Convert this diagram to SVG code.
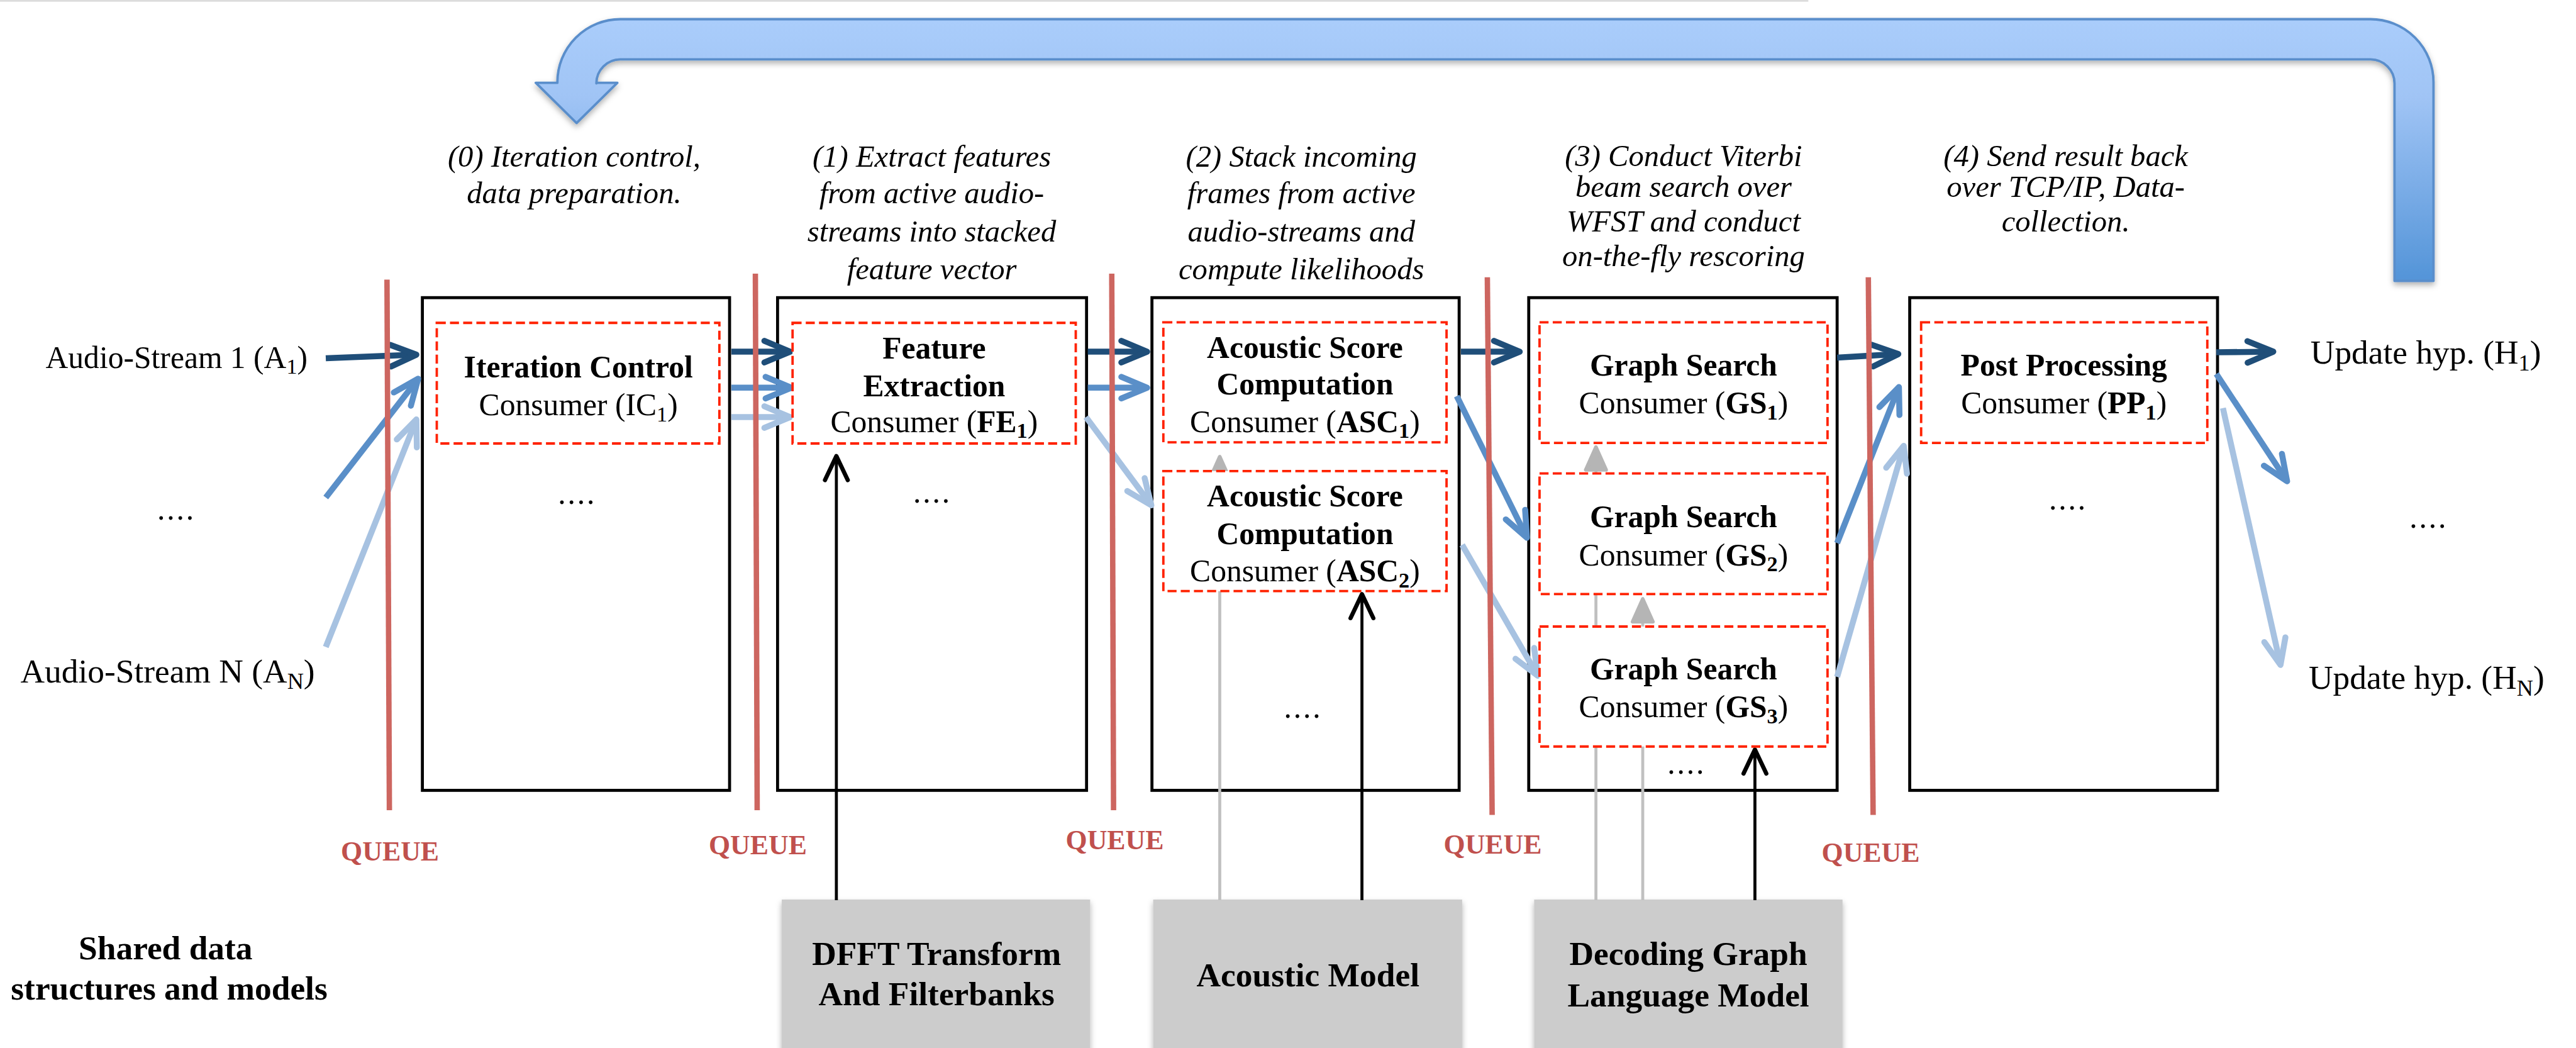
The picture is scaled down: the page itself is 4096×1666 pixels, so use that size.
<svg xmlns="http://www.w3.org/2000/svg" width="4096" height="1666" viewBox="0 0 4096 1666">
<defs>
<style>
text{font-family:"Liberation Serif","Times New Roman",serif;fill:#000}
.it{font-style:italic;font-size:51px;text-anchor:middle}
.nb{font-weight:bold;font-size:52px;text-anchor:middle}
.nr{font-size:52px;text-anchor:middle}
.lab{font-size:52px}
.lab2{font-size:56px}
.mb{font-weight:bold;font-size:56px;text-anchor:middle}
.q{font-weight:bold;font-size:46px;text-anchor:middle;fill:#c0504d}
.dots{font-size:52px;text-anchor:middle;letter-spacing:3px}
.stage{fill:none;stroke:#000;stroke-width:5}
.node{fill:#fff;stroke:#ff2200;stroke-width:4;stroke-dasharray:15 7}
.queue{stroke:#cd6660;stroke-width:9;fill:none}
.model{fill:#cccccc}
.fd{stroke:#1f4e79;stroke-width:10;fill:none;marker-end:url(#mD)}
.fm{stroke:#5a8fc8;stroke-width:10;fill:none;marker-end:url(#mM)}
.fl{stroke:#a7c2e1;stroke-width:10;fill:none;marker-end:url(#mL)}
.blk{stroke:#000;stroke-width:5;fill:none;marker-end:url(#mK)}
.gry{stroke:#c0c0c0;stroke-width:5;fill:none;marker-end:url(#mG)}
</style>
<linearGradient id="bigGrad" gradientUnits="userSpaceOnUse" x1="0" y1="32" x2="0" y2="468">
<stop offset="0" stop-color="#aacdfb"/>
<stop offset="0.3" stop-color="#a0c4f5"/>
<stop offset="1" stop-color="#5394d8"/>
</linearGradient>
<filter id="sh" x="-10%" y="-10%" width="130%" height="130%">
<feDropShadow dx="0" dy="5" stdDeviation="5" flood-color="#000" flood-opacity="0.3"/>
</filter>
<marker id="mD" markerUnits="userSpaceOnUse" orient="auto" overflow="visible" markerWidth="1" markerHeight="1">
<path d="M-43,-18 L0,0 L-43,18" fill="none" stroke="#1f4e79" stroke-width="10" stroke-linecap="round" stroke-linejoin="round"/>
</marker>
<marker id="mM" markerUnits="userSpaceOnUse" orient="auto" overflow="visible" markerWidth="1" markerHeight="1">
<path d="M-43,-18 L0,0 L-43,18" fill="none" stroke="#5a8fc8" stroke-width="10" stroke-linecap="round" stroke-linejoin="round"/>
</marker>
<marker id="mL" markerUnits="userSpaceOnUse" orient="auto" overflow="visible" markerWidth="1" markerHeight="1">
<path d="M-43,-18 L0,0 L-43,18" fill="none" stroke="#a7c2e1" stroke-width="10" stroke-linecap="round" stroke-linejoin="round"/>
</marker>
<marker id="mK" markerUnits="userSpaceOnUse" orient="auto" overflow="visible" markerWidth="1" markerHeight="1">
<path d="M-40,-19 L0,0 L-40,19" fill="none" stroke="#000" stroke-width="7" stroke-linecap="round" stroke-linejoin="round"/>
</marker>
<marker id="mG" markerUnits="userSpaceOnUse" orient="auto" overflow="visible" markerWidth="1" markerHeight="1">
<polygon points="0,0 -38,-17 -38,17" fill="#b5b5b5" stroke="#b5b5b5" stroke-width="6" stroke-linejoin="round"/>
</marker>
</defs>
<rect x="0" y="0" width="4096" height="1666" fill="#fff"/>
<g transform="scale(0.954)">

<line x1="0" y1="1.5" x2="3014" y2="1.5" stroke="#dcdcdc" stroke-width="3"/>

<g id="feedback-arrow" filter="url(#sh)">
<path d="M893 138 L929 138 L929 137 A105 105 0 0 1 1034 32 L3951 32 A105 105 0 0 1 4056 137 L4056 468 L3991 468 L3991 139 A40 40 0 0 0 3951 99 L1034 99 A40 40 0 0 0 994 139 L994 138 L1029 138 L961 205 Z" fill="url(#bigGrad)" stroke="#5a8ecb" stroke-width="4" stroke-linejoin="round"/>
</g>

<g id="step-labels">
<text class="it" x="957" y="278">(0) Iteration control,</text>
<text class="it" x="957" y="339">data preparation.</text>
<text class="it" x="1553" y="278">(1) Extract features</text>
<text class="it" x="1553" y="339">from active audio-</text>
<text class="it" x="1553" y="402">streams into stacked</text>
<text class="it" x="1553" y="465">feature vector</text>
<text class="it" x="2169" y="278">(2) Stack incoming</text>
<text class="it" x="2169" y="339">frames from active</text>
<text class="it" x="2169" y="402">audio-streams and</text>
<text class="it" x="2169" y="465">compute likelihoods</text>
<text class="it" x="2806" y="277">(3) Conduct Viterbi</text>
<text class="it" x="2806" y="328">beam search over</text>
<text class="it" x="2806" y="386">WFST and conduct</text>
<text class="it" x="2806" y="443">on-the-fly rescoring</text>
<text class="it" x="3443" y="277">(4) Send result back</text>
<text class="it" x="3443" y="328">over TCP/IP, Data-</text>
<text class="it" x="3443" y="386">collection.</text>
</g>

<g id="stages">
<rect id="stage0" class="stage" x="704" y="496" width="512" height="821"/>
<rect id="stage1" class="stage" x="1296" y="496" width="515" height="821"/>
<rect id="stage2" class="stage" x="1920" y="496" width="512" height="821"/>
<rect id="stage3" class="stage" x="2548" y="496" width="514" height="821"/>
<rect id="stage4" class="stage" x="3183" y="496" width="513" height="821"/>
</g>

<g id="models" filter="url(#sh)">
<g id="model-dfft"><rect class="model" x="1303" y="1499" width="514" height="270"/>
<text class="mb" x="1561" y="1608">DFFT Transform</text>
<text class="mb" x="1561" y="1675">And Filterbanks</text></g>
<g id="model-acoustic"><rect class="model" x="1922" y="1499" width="515" height="270"/>
<text class="mb" x="2180" y="1644">Acoustic Model</text></g>
<g id="model-graph"><rect class="model" x="2557" y="1499" width="514" height="270"/>
<text class="mb" x="2814" y="1608">Decoding Graph</text>
<text class="mb" x="2814" y="1677">Language Model</text></g>
</g>

<g id="connectors">
<line class="gry" x1="2033" y1="1500" x2="2033" y2="761"/>
<line class="gry" x1="2660" y1="1500" x2="2660" y2="745"/>
<line class="gry" x1="2738" y1="1500" x2="2738" y2="998"/>
<line class="blk" x1="1394" y1="1500" x2="1394" y2="760"/>
<line class="blk" x1="2270" y1="1500" x2="2270" y2="990"/>
<line class="blk" x1="2925" y1="1500" x2="2925" y2="1249"/>

<line class="fd" x1="543" y1="597" x2="694" y2="591"/>
<line class="fm" x1="543" y1="829" x2="697" y2="631"/>
<line class="fl" x1="543" y1="1078" x2="694" y2="699"/>

<line class="fd" x1="1219" y1="586" x2="1317" y2="586"/>
<line class="fm" x1="1219" y1="646" x2="1319" y2="646"/>
<line class="fl" x1="1219" y1="695" x2="1317" y2="695"/>

<line class="fd" x1="1813" y1="586" x2="1912" y2="586"/>
<line class="fm" x1="1813" y1="646" x2="1912" y2="646"/>
<line class="fl" x1="1810" y1="695" x2="1919" y2="842"/>

<line class="fd" x1="2435" y1="586" x2="2533" y2="586"/>
<line class="fm" x1="2428" y1="660" x2="2545" y2="896"/>
<line class="fl" x1="2437" y1="908" x2="2563" y2="1126"/>

<line class="fd" x1="3062" y1="596" x2="3164" y2="590"/>
<line class="fm" x1="3062" y1="905" x2="3165" y2="645"/>
<line class="fl" x1="3062" y1="1128" x2="3173" y2="743"/>

<line class="fd" x1="3694" y1="587" x2="3789" y2="586"/>
<line class="fm" x1="3694" y1="623" x2="3812" y2="802"/>
<line class="fl" x1="3705" y1="680" x2="3801" y2="1108"/>
</g>

<g id="queues">
<line class="queue" x1="645" y1="466" x2="649" y2="1350"/>
<line class="queue" x1="1259" y1="456" x2="1262" y2="1350"/>
<line class="queue" x1="1853" y1="456" x2="1856" y2="1350"/>
<line class="queue" x1="2479" y1="462" x2="2487" y2="1358"/>
<line class="queue" x1="3114" y1="462" x2="3122" y2="1358"/>
<text class="q" x="650" y="1434">QUEUE</text>
<text class="q" x="1263" y="1424">QUEUE</text>
<text class="q" x="1858" y="1415">QUEUE</text>
<text class="q" x="2488" y="1422">QUEUE</text>
<text class="q" x="3118" y="1436">QUEUE</text>
</g>

<g id="node-ic1">
<rect class="node" x="728" y="538" width="471" height="201"/>
<text class="nb" x="964" y="629">Iteration Control</text>
<text class="nr" x="964" y="692">Consumer (IC<tspan font-size="36px" dy="10">1</tspan><tspan dy="-10">)</tspan></text>
</g>
<g id="node-fe1">
<rect class="node" x="1321" y="538" width="472" height="201"/>
<text class="nb" x="1557" y="597">Feature</text>
<text class="nb" x="1557" y="660">Extraction</text>
<text class="nr" x="1557" y="720">Consumer (<tspan font-weight="bold">FE<tspan font-size="36px" dy="10">1</tspan></tspan><tspan dy="-10">)</tspan></text>
</g>
<g id="node-asc1">
<rect class="node" x="1939" y="537" width="472" height="200"/>
<text class="nb" x="2175" y="596">Acoustic Score</text>
<text class="nb" x="2175" y="657">Computation</text>
<text class="nr" x="2175" y="720">Consumer (<tspan font-weight="bold">ASC<tspan font-size="36px" dy="10">1</tspan></tspan><tspan dy="-10">)</tspan></text>
</g>
<g id="node-asc2">
<rect class="node" x="1939" y="785" width="472" height="200"/>
<text class="nb" x="2175" y="844">Acoustic Score</text>
<text class="nb" x="2175" y="907">Computation</text>
<text class="nr" x="2175" y="969">Consumer (<tspan font-weight="bold">ASC<tspan font-size="36px" dy="10">2</tspan></tspan><tspan dy="-10">)</tspan></text>
</g>
<g id="node-gs1">
<rect class="node" x="2566" y="537" width="480" height="201"/>
<text class="nb" x="2806" y="626">Graph Search</text>
<text class="nr" x="2806" y="689">Consumer (<tspan font-weight="bold">GS<tspan font-size="36px" dy="10">1</tspan></tspan><tspan dy="-10">)</tspan></text>
</g>
<g id="node-gs2">
<rect class="node" x="2566" y="789" width="480" height="201"/>
<text class="nb" x="2806" y="878">Graph Search</text>
<text class="nr" x="2806" y="942">Consumer (<tspan font-weight="bold">GS<tspan font-size="36px" dy="10">2</tspan></tspan><tspan dy="-10">)</tspan></text>
</g>
<g id="node-gs3">
<rect class="node" x="2566" y="1044" width="480" height="200"/>
<text class="nb" x="2806" y="1132">Graph Search</text>
<text class="nr" x="2806" y="1195">Consumer (<tspan font-weight="bold">GS<tspan font-size="36px" dy="10">3</tspan></tspan><tspan dy="-10">)</tspan></text>
</g>
<g id="node-pp1">
<rect class="node" x="3202" y="537" width="477" height="201"/>
<text class="nb" x="3440" y="626">Post Processing</text>
<text class="nr" x="3440" y="689">Consumer (<tspan font-weight="bold">PP<tspan font-size="36px" dy="10">1</tspan></tspan><tspan dy="-10">)</tspan></text>
</g>

<g id="dots">
<text class="dots" x="962" y="840">....</text>
<text class="dots" x="1554" y="838">....</text>
<text class="dots" x="2172" y="1196">....</text>
<text class="dots" x="2811" y="1289">....</text>
<text class="dots" x="3447" y="849">....</text>
<text class="dots" x="4048" y="879">....</text>
<text class="dots" x="294" y="866">....</text>
</g>

<g id="io-labels">
<text class="lab" x="76" y="613">Audio-Stream 1 (A<tspan font-size="36px" dy="10">1</tspan><tspan dy="-10">)</tspan></text>
<text class="lab2" x="34" y="1137">Audio-Stream N (A<tspan font-size="38px" dy="11">N</tspan><tspan dy="-11">)</tspan></text>
<text class="lab2" x="3851" y="606">Update hyp. (H<tspan font-size="38px" dy="11">1</tspan><tspan dy="-11">)</tspan></text>
<text class="lab2" x="3848" y="1148">Update hyp. (H<tspan font-size="38px" dy="11">N</tspan><tspan dy="-11">)</tspan></text>
</g>

<g id="shared-label">
<text class="mb" x="276" y="1599">Shared data</text>
<text class="mb" x="282" y="1666">structures and models</text>
</g>

</g>
</svg>
